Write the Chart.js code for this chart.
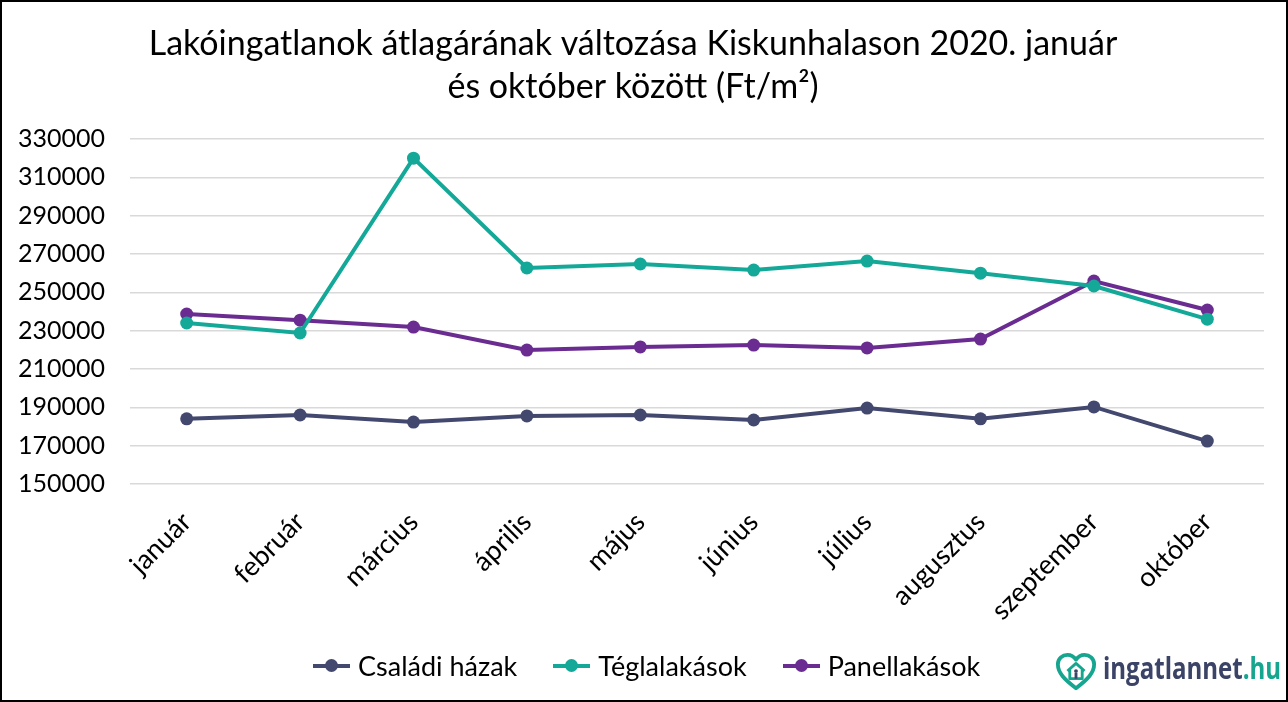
<!DOCTYPE html>
<html>
<head>
<meta charset="utf-8">
<script src="https://cdn.jsdelivr.net/npm/chart.js@4.4.1/dist/chart.umd.min.js"></script>
<style>
body { margin:0; background:#fff; }
#wrap { position:relative; width:1288px; height:702px; box-sizing:border-box; border:2px solid #000; background:#fff; overflow:hidden; }
#chart { position:absolute; left:0; top:0; }
#legend { position:absolute; left:311px; top:647px; display:flex; gap:36px; font-family:Lato, sans-serif; font-size:27px; color:#000; white-space:nowrap; }
.item { display:flex; align-items:center; }
.swatch { position:relative; width:37px; height:4px; margin-right:8px; }
.swatch i { position:absolute; left:12px; top:-5px; width:13px; height:13px; border-radius:50%; }
#heart { position:absolute; left:1053px; top:649px; }
#logo { position:absolute; left:1101px; top:644px; font-family:"Open Sans", sans-serif; font-weight:700; font-size:31px; color:#3b4466; transform:scaleX(0.775); transform-origin:left top; white-space:nowrap; }
#logo span { color:#16a58f; }
</style>
</head>
<body>
<div id="wrap">
<canvas id="chart"></canvas>
<div id="legend"></div>
<svg id="heart" width="42" height="42" viewBox="0 0 44 42">
<path d="M22 38 C10 29 3 22 3 13 C3 7 8 3 13 3 C17 3 20 5 22 8 C24 5 27 3 31 3 C36 3 41 7 41 13 C41 22 34 29 22 38 Z" fill="none" stroke="#16a58f" stroke-width="4" stroke-linejoin="round"/>
<path d="M13 20 L22 12 L31 20 M15.5 18 V28 H28.5 V18" fill="none" stroke="#16a58f" stroke-width="3" stroke-linejoin="round"/>
<circle cx="22" cy="20" r="2" fill="#3b4466"/>
<rect x="20.5" y="22" width="3" height="6" fill="#3b4466"/>
</svg>
<div id="logo">ingatlannet<span>.hu</span></div>
</div>
<script>
// LAKÓINGATLANOK ÁTLAGÁRA - KISKUNHALAS 2020

const months = ["január","február","március","április","május","június","július","augusztus","szeptember","október"];

const csaladiHazak = [184000,186000,182300,185500,186000,183400,189600,184000,190200,172400];
const teglalakasok = [234000,228800,320000,262700,264800,261600,266300,260000,253300,236000];
const panellakasok = [238700,235500,231900,219900,221500,222500,221000,225600,255900,240800];

const yMin = 150000, yMax = 330000, yStep = 20000;

const colCsaladi = "#43486f";
const colTegla = "#14a898";
const colPanel = "#6a2c91";

const canvas = document.getElementById("chart");
canvas.width = 1284; canvas.height = 698;
canvas.style.width = "1284px"; canvas.style.height = "698px";

function line(label, data, color){
return {
label: label,
data: data,
borderColor: color,
backgroundColor: color,
borderWidth: 4,
pointRadius: 6.5,
pointHoverRadius: 6.5,
pointBackgroundColor: color,
pointBorderWidth: 0,
tension: 0
};
}

const chart = new Chart(canvas.getContext("2d"), {
type: "line",
data: {
labels: months,
datasets: [
line("Családi házak", csaladiHazak, colCsaladi),
line("Téglalakások", teglalakasok, colTegla),
line("Panellakások", panellakasok, colPanel)
]
},
options:{
responsive:false,
animation:false,
layout:{ padding:{ left:0, right:22, top:0, bottom:0 } },
plugins:{
legend:{display:false},
tooltip:{enabled:false},
title:{
display:true,
text:["Lakóingatlanok átlagárának változása Kiskunhalason 2020. január","és október között (Ft/m²)"],
color:"#000",
font:{ family:"Lato", size:34, weight:"normal", lineHeight:1.265 },
padding:{ top:21, bottom:30 }
}
},
scales:{
x:{
offset:true,
grid:{ display:false },
border:{ display:false },
ticks:{ color:"#000", font:{ family:"Lato", size:27 }, minRotation:45, maxRotation:45, padding:14 },
afterFit(scale){ scale.height = 216; }
},
y:{
min:yMin,
max:yMax,
grid:{ color:"#d9d9d9", lineWidth:1.5, drawTicks:false },
border:{ display:false },
ticks:{ stepSize:yStep, color:"#000", font:{ family:"Lato", size:25 }, padding:25, callback:v => String(v) },
afterFit(scale){ scale.width = 128; }
}
}
}
});

// HTML legend (line + dot)
const legend = document.getElementById("legend");
chart.data.datasets.forEach(ds => {
const item = document.createElement("div");
item.className = "item";
item.innerHTML = '<div class="swatch" style="background:'+ds.borderColor+'"><i style="background:'+ds.borderColor+'"></i></div>' + ds.label;
legend.appendChild(item);
});
</script>
</body>
</html>
